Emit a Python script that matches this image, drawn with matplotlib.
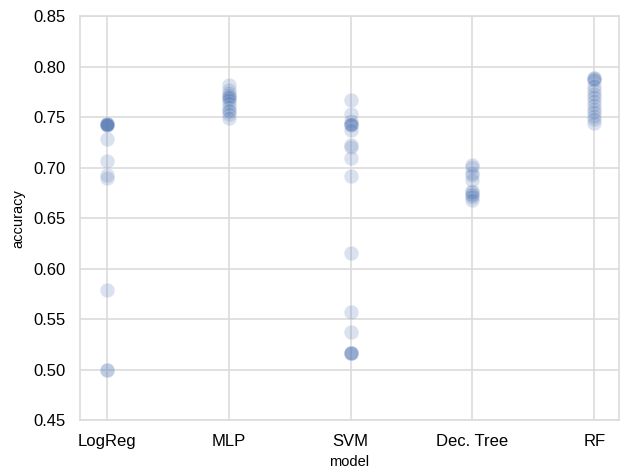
import matplotlib
matplotlib.use("Agg")
import matplotlib.pyplot as plt
import seaborn as sns

models = ["LogReg", "MLP", "SVM", "Dec. Tree", "RF"]

logreg_acc = [0.743, 0.743, 0.743, 0.743, 0.743, 0.743, 0.742, 0.742,
              0.728, 0.706, 0.693, 0.690, 0.579, 0.500, 0.500]
mlp_acc = [0.782, 0.777, 0.774, 0.772, 0.771, 0.770, 0.769, 0.767,
           0.764, 0.760, 0.757, 0.756, 0.753, 0.749]
svm_acc = [0.767, 0.753, 0.746, 0.743, 0.743, 0.743, 0.742, 0.737,
           0.722, 0.720, 0.709, 0.692, 0.615, 0.557, 0.537,
           0.516, 0.516, 0.516, 0.516]
tree_acc = [0.703, 0.701, 0.695, 0.693, 0.688, 0.677, 0.676, 0.674,
            0.673, 0.671, 0.668]
rf_acc = [0.789, 0.789, 0.788, 0.787, 0.781, 0.777, 0.773, 0.770,
          0.766, 0.762, 0.758, 0.755, 0.751, 0.748, 0.744]

all_acc = [logreg_acc, mlp_acc, svm_acc, tree_acc, rf_acc]

sns.set_style("whitegrid", {"grid.color": ".86", "axes.edgecolor": ".86"})
plt.rcParams['font.family'] = ['Liberation Sans', 'DejaVu Sans']

fig = plt.figure(figsize=(6.2, 4.72), dpi=100)
ax = fig.add_axes([0.129, 0.110, 0.869, 0.856])

for i, acc in enumerate(all_acc):
    ax.scatter([i] * len(acc), acc, s=110, color="#4C72B0", alpha=0.2,
               edgecolor="white", linewidth=0.6, zorder=3)

ax.set_xticks(range(len(models)))
ax.set_xticklabels(models)
ax.set_xlim(-0.22, 4.2)
ax.set_ylim(0.45, 0.85)
ax.set_yticks([0.45, 0.50, 0.55, 0.60, 0.65, 0.70, 0.75, 0.80, 0.85])
ax.set_yticklabels([f"{v:.2f}" for v in ax.get_yticks()])
ax.tick_params(axis="both", labelsize=12, length=0, pad=10, labelcolor="black")
ax.grid(True, linewidth=1.2)
for sp in ax.spines.values():
    sp.set_linewidth(1.2)
ax.set_xlabel("model", fontsize=10.5, labelpad=4, color="black")
ax.set_ylabel("accuracy", fontsize=10.5, labelpad=6, color="black")

fig.savefig("out.png", dpi=100)
